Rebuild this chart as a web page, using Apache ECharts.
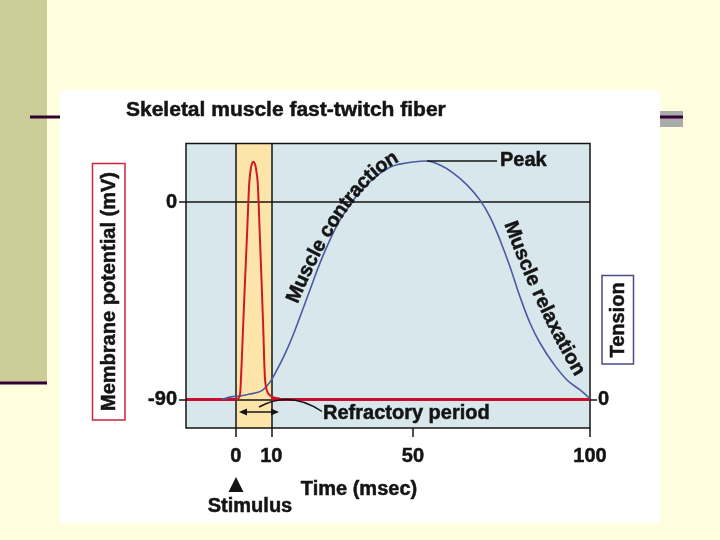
<!DOCTYPE html>
<html>
<head>
<meta charset="utf-8">
<script src="https://cdn.jsdelivr.net/npm/echarts@6/dist/echarts.min.js"></script>
<style>
html,body{margin:0;padding:0;background:#FFFFE0;}
#chart{width:720px;height:540px;}
</style>
</head>
<body>
<div id="chart"></div>
<script>
// ---------- data ----------
const timeTicks = [0, 10, 50, 100];          // msec
const potentialTicks = [-90, 0];             // mV
const tensionTicks = [0];
const restingPotential = -90;
const refractoryPeriod = [0, 10];            // msec
const timeRange = [-14.1, 100];
const potentialRange = [-103, 26.7];
const tensionRange = [-11.95, 107.34];       // tension in % of peak

// action potential (membrane potential, mV)
const spikeTime = [0, 0.71, 1.13, 1.41, 1.98, 2.54, 3.16, 3.76, 4.15, 4.52, 4.89, 5.28, 5.65, 6.16, 6.72, 7.26, 7.74, 8.19, 8.62, 9.32, 10.45, 12.43];
const spikeMv   = [-90, -89.5, -88.0, -81.1, -58.8, -36.9, -14.1, 8.7, 14.6, 17.5, 18.4, 17.8, 15.5, 8.7, -14.1, -36.9, -58.8, -80.2, -85.2, -87.7, -88.9, -89.5];

// twitch tension (% of peak)
const tensionTime  = [-3.95, -1.69, 1.13, 3.95, 5.93, 7.63, 9.6, 11.58, 13.56, 15.82, 18.08, 20.9, 23.73, 26.55, 29.38, 32.2, 35.03, 37.85, 40.68, 43.5, 46.33, 50.0, 53.67, 57.63, 61.3, 65.25, 68.93, 71.75, 74.58, 77.4, 80.23, 83.05, 85.88, 89.55, 93.5, 97.18, 100];
const tensionValue = [0, 1.0, 1.5, 2.3, 2.9, 4.0, 7.3, 12.4, 18.2, 25.8, 34.6, 45.9, 57.2, 66.9, 75.3, 81.6, 87.1, 91.3, 94.8, 97.4, 98.7, 99.6, 100, 98.3, 95.0, 90.0, 83.6, 76.6, 66.9, 55.7, 43.1, 32.1, 23.7, 15.3, 8.2, 4.0, 0.4];

// ---------- helpers ----------
const FONT = '"Liberation Sans", Arial, Helvetica, sans-serif';
const INK = '#141414';
const HEAVY = 0.5;
function zip(a, b) { return a.map((v, i) => [v, b[i]]); }

function quadPts(p0, p1, p2, n) {
  const a = [];
  for (let i = 0; i <= n; i++) {
    const t = i / n, u = 1 - t;
    a.push([u*u*p0[0] + 2*t*u*p1[0] + t*t*p2[0], u*u*p0[1] + 2*t*u*p1[1] + t*t*p2[1]]);
  }
  return a;
}
function pathText(str, pts, size) {
  const ctx = document.createElement('canvas').getContext('2d');
  ctx.font = 'bold ' + size + 'px ' + FONT;
  const cum = [0];
  for (let i = 1; i < pts.length; i++) {
    cum.push(cum[i-1] + Math.hypot(pts[i][0]-pts[i-1][0], pts[i][1]-pts[i-1][1]));
  }
  function pointAt(s) {
    s = Math.max(0, Math.min(cum[cum.length-1], s));
    let i = 0;
    while (i < cum.length - 2 && cum[i+1] < s) i++;
    const f = (s - cum[i]) / ((cum[i+1] - cum[i]) || 1);
    return [pts[i][0] + f*(pts[i+1][0]-pts[i][0]), pts[i][1] + f*(pts[i+1][1]-pts[i][1])];
  }
  const els = [];
  let s = 0;
  for (const ch of str) {
    const w = ctx.measureText(ch).width;
    if (ch !== ' ') {
      const c = pointAt(s + w/2), a = pointAt(s + w/2 - 4), b = pointAt(s + w/2 + 4);
      const ang = Math.atan2(b[1]-a[1], b[0]-a[0]);
      els.push({
        type: 'text', x: c[0], y: c[1], rotation: -ang, z: 60, silent: true,
        style: { text: ch, font: 'bold ' + size + 'px ' + FONT, fill: INK, stroke: INK, lineWidth: HEAVY,
                 textAlign: 'center', textVerticalAlign: 'middle', align: 'center', verticalAlign: 'middle' }
      });
    }
    s += w;
  }
  return els;
}
function txt(text, x, y, opts) {
  opts = opts || {};
  return {
    type: 'text', x: x, y: y, rotation: opts.rotation || 0, z: 60, silent: true,
    style: { text: text, font: 'bold ' + (opts.size || 20) + 'px ' + FONT, fill: INK, stroke: INK, lineWidth: HEAVY,
             textAlign: opts.align || 'left', align: opts.align || 'left',
             textVerticalAlign: 'middle', verticalAlign: 'middle' }
  };
}

// ---------- layout ----------
const G = { left: 186, top: 143.5, right: 130, bottom: 112 };
const gx = G.left, gy = G.top, gw = 720 - G.left - G.right, gh = 540 - G.top - G.bottom;

const graphics = [
  // slide decoration
  { type: 'rect', z: -20, silent: true, shape: { x: 0, y: 0, width: 47, height: 383 }, style: { fill: '#CCCC99' } },
  { type: 'rect', z: -19, silent: true, shape: { x: 0, y: 381.5, width: 47, height: 3 }, style: { fill: '#330033' } },
  { type: 'rect', z: -19, silent: true, shape: { x: 30, y: 115.5, width: 30, height: 3 }, style: { fill: '#330033' } },
  { type: 'rect', z: -19, silent: true, shape: { x: 660, y: 111, width: 23, height: 16 }, style: { fill: '#ABABAB' } },
  { type: 'rect', z: -18, silent: true, shape: { x: 660, y: 115.5, width: 23, height: 3 }, style: { fill: '#330033' } },
  { type: 'rect', z: -19, silent: true, shape: { x: 60, y: 90, width: 600, height: 433 }, style: { fill: '#FFFFFF' } },
  // plot frame
  { type: 'rect', z: 8, silent: true, shape: { x: gx, y: gy, width: gw, height: gh }, style: { fill: null, stroke: INK, lineWidth: 1.5 } },
  // title
  txt('Skeletal muscle fast-twitch fiber', 126, 110, { size: 21 }),
  // axis boxes
  { type: 'rect', z: 55, silent: true, shape: { x: 92.5, y: 163.5, width: 32.5, height: 256.5 }, style: { fill: '#FFFFFF', stroke: '#D0253A', lineWidth: 1.5 } },
  txt('Membrane potential (mV)', 109, 291.5, { rotation: Math.PI/2, align: 'center' }),
  { type: 'rect', z: 55, silent: true, shape: { x: 602, y: 275.5, width: 31.5, height: 88.5 }, style: { fill: '#FFFFFF', stroke: '#4A4A8C', lineWidth: 1.5 } },
  txt('Tension', 618, 320, { rotation: Math.PI/2, align: 'center' }),
  // x axis title and stimulus
  txt('Time (msec)', 359, 489, { align: 'center' }),
  { type: 'polygon', z: 60, silent: true, shape: { points: [[236, 477], [243.5, 492], [228.5, 492]] }, style: { fill: INK } },
  txt('Stimulus', 250, 506, { align: 'center' }),
  // peak annotation
  { type: 'line', z: 60, silent: true, shape: { x1: 427, y1: 161, x2: 497, y2: 161 }, style: { stroke: INK, lineWidth: 1.5 } },
  txt('Peak', 500, 160.5),
  // refractory period annotation
  { type: 'line', z: 60, silent: true, shape: { x1: 243, y1: 412, x2: 275, y2: 412 }, style: { stroke: INK, lineWidth: 1.5 } },
  { type: 'polygon', z: 60, silent: true, shape: { points: [[239, 412], [247, 408.5], [247, 415.5]] }, style: { fill: INK } },
  { type: 'polygon', z: 60, silent: true, shape: { points: [[279, 412], [271, 408.5], [271, 415.5]] }, style: { fill: INK } },
  { type: 'bezierCurve', z: 60, silent: true, shape: { x1: 259, y1: 407, cpx1: 290, cpy1: 390, x2: 322, y2: 411.5 }, style: { stroke: INK, lineWidth: 1.5, fill: null } },
  txt('Refractory period', 323, 413)
].concat(
  pathText('Muscle contraction', quadPts([292.5, 302], [342.4, 181.7], [400, 155], 200), 20),
  pathText('Muscle relaxation', quadPts([509.5, 222], [539, 304], [583, 379], 200), 20)
);

const labelStyle = { fontFamily: FONT, fontWeight: 'bold', fontSize: 20, color: INK, textBorderColor: INK, textBorderWidth: HEAVY };
const tickStyle = { color: INK, width: 1.5 };

const option = {
  backgroundColor: '#FFFFE0',
  animation: false,
  grid: { left: G.left, top: G.top, right: G.right, bottom: G.bottom, show: true,
          backgroundColor: '#D8E7EC', borderWidth: 0 },
  xAxis: {
    type: 'value', position: 'bottom', min: timeRange[0], max: timeRange[1],
    axisLine: { show: false, onZero: false },
    axisTick: { show: true, customValues: timeTicks, length: 9, lineStyle: tickStyle },
    axisLabel: Object.assign({ customValues: timeTicks, margin: 18 }, labelStyle),
    splitLine: { show: false }
  },
  yAxis: [{
    type: 'value', position: 'left', min: potentialRange[0], max: potentialRange[1],
    axisLine: { show: false, onZero: false },
    axisTick: { show: true, customValues: potentialTicks, length: 7, lineStyle: tickStyle },
    axisLabel: Object.assign({ customValues: potentialTicks, margin: 9 }, labelStyle),
    splitLine: { show: false }
  }, {
    type: 'value', position: 'right', min: tensionRange[0], max: tensionRange[1],
    axisLine: { show: false, onZero: false },
    axisTick: { show: true, customValues: tensionTicks, length: 7, lineStyle: tickStyle },
    axisLabel: Object.assign({ customValues: tensionTicks, margin: 8 }, labelStyle),
    splitLine: { show: false }
  }],
  graphic: { elements: graphics },
  series: [
    {
      name: 'Resting (before)', type: 'line', yAxisIndex: 0, z: 6, showSymbol: false, silent: true,
      data: [[timeRange[0], restingPotential], [refractoryPeriod[0], restingPotential]],
      lineStyle: { color: '#C8102E', width: 3 },
      markArea: { silent: true, itemStyle: { color: '#FDE5A9' },
        data: [[{ xAxis: refractoryPeriod[0] }, { xAxis: refractoryPeriod[1] }]] },
      markLine: { silent: true, symbol: 'none', label: { show: false },
        lineStyle: { color: INK, width: 1.5, type: 'solid' },
        data: [{ yAxis: 0 }, { yAxis: restingPotential }, { xAxis: refractoryPeriod[0] }, { xAxis: refractoryPeriod[1] }] }
    },
    {
      name: 'Tension', type: 'line', yAxisIndex: 1, z: 10, showSymbol: false, silent: true,
      smooth: 0.4, data: zip(tensionTime, tensionValue),
      lineStyle: { color: '#4B5AA3', width: 1.6 }
    },
    {
      name: 'Resting (after)', type: 'line', yAxisIndex: 0, z: 11, showSymbol: false, silent: true,
      data: [[refractoryPeriod[1], restingPotential], [timeTicks[timeTicks.length-1], restingPotential]],
      lineStyle: { color: '#C8102E', width: 3 }
    },
    {
      name: 'Membrane potential', type: 'line', yAxisIndex: 0, z: 12, showSymbol: false, silent: true,
      smooth: 0.3, data: zip(spikeTime, spikeMv),
      lineStyle: { color: '#CC1A22', width: 2 }
    }
  ]
};

const chart = echarts.init(document.getElementById('chart'), null, { renderer: 'canvas' });
chart.setOption(option);
</script>
</body>
</html>
